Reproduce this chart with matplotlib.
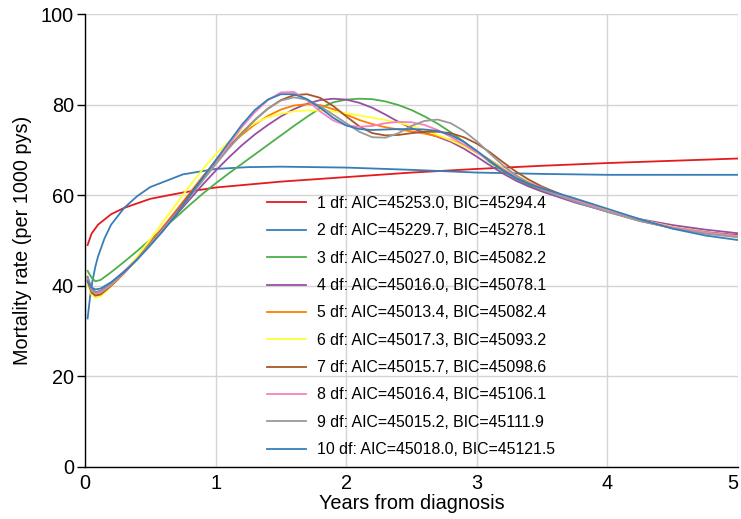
import numpy as np
import matplotlib
matplotlib.use("Agg")
import matplotlib.pyplot as plt

plt.rcParams['font.family'] = ['Liberation Sans', 'DejaVu Sans']

# values
x_1df = [0.02, 0.05, 0.1, 0.2, 0.3, 0.5, 0.75, 1, 1.5, 2, 2.5, 3, 3.5, 4, 4.5, 5]
y_1df = [49.0, 51.5, 53.5, 55.8, 57.2, 59.2, 60.6, 61.7, 63.0, 64.0, 65.0, 65.8, 66.5, 67.1, 67.6, 68.1]

x_2df = [0.02, 0.04, 0.06, 0.08, 0.1, 0.15, 0.2, 0.3, 0.4, 0.5, 0.75, 1, 1.25, 1.5, 2, 2.5, 3, 3.5, 4, 4.5, 5]
y_2df = [32.8, 37.8, 41.5, 44.3, 46.5, 50.5, 53.5, 57.2, 59.8, 61.8, 64.6, 65.8, 66.2, 66.3, 66.1, 65.6, 65.0, 64.7, 64.5, 64.5, 64.5]

x_spl = [0.02, 0.05, 0.08, 0.12, 0.2, 0.3, 0.4, 0.5, 0.6, 0.7, 0.8, 0.9, 1.0, 1.1, 1.2, 1.3,
         1.4, 1.5, 1.6, 1.7, 1.8, 1.9, 2.0, 2.1, 2.2, 2.3, 2.4, 2.5, 2.6, 2.7, 2.8, 2.9, 3.0,
         3.1, 3.2, 3.3, 3.4, 3.5, 3.75, 4.0, 4.25, 4.5, 4.75, 5.0]

y_3df = [43.3, 41.8, 41.0, 41.3, 43.0, 45.3, 47.7, 50.2, 52.7, 55.2, 57.8, 60.3, 62.6, 64.8, 66.9, 69.0,
         71.1, 73.2, 75.3, 77.3, 79.2, 80.5, 81.1, 81.3, 81.2, 80.7, 79.9, 78.8, 77.4, 75.8, 73.9, 71.8, 69.6,
         67.3, 65.3, 63.6, 62.2, 61.0, 58.6, 56.4, 54.5, 53.0, 51.9, 51.0]
y_4df = [42.0, 39.5, 38.6, 38.9, 40.6, 43.2, 46.0, 49.2, 52.4, 55.7, 59.0, 62.3, 65.4, 68.3, 71.0, 73.4,
         75.5, 77.4, 79.0, 80.2, 81.0, 81.3, 81.1, 80.4, 79.3, 77.8, 76.2, 74.8, 73.8, 72.9, 71.8, 70.3, 68.5,
         66.6, 64.8, 63.2, 61.9, 60.8, 58.4, 56.4, 54.7, 53.4, 52.4, 51.6]
y_5df = [41.5, 38.8, 38.0, 38.3, 40.2, 43.0, 46.2, 49.6, 53.1, 56.7, 60.4, 64.1, 67.5, 70.6, 73.3, 75.6,
         77.5, 78.9, 79.8, 80.1, 79.9, 79.0, 77.8, 76.6, 75.7, 75.0, 74.5, 74.1, 73.6, 73.0, 72.2, 71.0, 69.5,
         67.8, 66.0, 64.3, 62.8, 61.6, 59.0, 56.6, 54.5, 52.9, 51.7, 50.9]
y_6df = [40.5, 38.0, 37.3, 37.7, 39.8, 42.8, 46.5, 50.3, 54.2, 58.1, 62.0, 65.7, 69.0, 71.8, 74.1, 75.9,
         77.2, 78.0, 78.5, 78.7, 78.7, 78.5, 78.1, 77.6, 77.1, 76.6, 76.0, 75.3, 74.4, 73.3, 72.1, 70.8, 69.3,
         67.7, 66.0, 64.4, 62.9, 61.6, 58.9, 56.6, 54.6, 53.0, 51.8, 51.0]
y_7df = [41.0, 38.5, 37.8, 38.1, 40.0, 42.8, 45.9, 49.3, 52.8, 56.4, 60.1, 63.8, 67.3, 70.6, 73.7, 76.6,
         79.1, 81.0, 82.1, 82.3, 81.5, 79.7, 77.4, 75.2, 73.7, 73.2, 73.3, 73.7, 74.0, 74.0, 73.7, 72.8, 71.4,
         69.5, 67.3, 65.2, 63.4, 61.9, 58.9, 56.4, 54.3, 52.8, 51.8, 51.2]
y_8df = [41.5, 39.0, 38.3, 38.5, 40.2, 42.9, 45.9, 49.2, 52.6, 56.1, 59.7, 63.4, 67.0, 71.0, 75.0, 78.3,
         81.0, 82.7, 82.8, 81.0, 78.5, 76.5, 75.4, 75.1, 75.3, 75.9, 76.2, 76.1, 75.5, 74.4, 72.9, 71.2, 69.4,
         67.6, 65.8, 64.2, 62.8, 61.6, 58.9, 56.5, 54.5, 52.9, 51.8, 51.0]
y_9df = [41.8, 39.2, 38.5, 38.8, 40.4, 43.0, 45.9, 49.1, 52.4, 55.9, 59.5, 63.2, 66.8, 70.3, 73.6, 76.6,
         79.1, 80.9, 81.6, 81.1, 79.6, 77.8, 75.9, 74.0, 72.8, 72.7, 73.7, 75.3, 76.4, 76.7, 75.9, 74.2, 71.9,
         69.2, 66.6, 64.4, 62.6, 61.2, 58.6, 56.3, 54.3, 52.7, 51.5, 50.7]
y_10df = [41.0, 39.6, 39.2, 39.4, 40.8, 43.1, 45.8, 48.9, 52.2, 55.8, 59.8, 63.8, 67.7, 71.6, 75.5, 78.8,
          81.1, 82.3, 82.3, 81.2, 79.3, 77.1, 75.4, 74.6, 74.4, 74.5, 74.6, 74.6, 74.5, 74.2, 73.3, 71.8, 69.8,
          67.6, 65.5, 63.8, 62.5, 61.5, 59.3, 57.0, 54.7, 52.6, 51.1, 50.1]

labels = [
    "1 df: AIC=45253.0, BIC=45294.4",
    "2 df: AIC=45229.7, BIC=45278.1",
    "3 df: AIC=45027.0, BIC=45082.2",
    "4 df: AIC=45016.0, BIC=45078.1",
    "5 df: AIC=45013.4, BIC=45082.4",
    "6 df: AIC=45017.3, BIC=45093.2",
    "7 df: AIC=45015.7, BIC=45098.6",
    "8 df: AIC=45016.4, BIC=45106.1",
    "9 df: AIC=45015.2, BIC=45111.9",
    "10 df: AIC=45018.0, BIC=45121.5",
]
colors = ["#e41a1c", "#377eb8", "#4daf4a", "#984ea3", "#ff7f00",
          "#ffff33", "#a65628", "#f781bf", "#999999", "#377eb8"]

series = [(x_1df, y_1df), (x_2df, y_2df)] + [(x_spl, y) for y in
          [y_3df, y_4df, y_5df, y_6df, y_7df, y_8df, y_9df, y_10df]]

fig = plt.figure(figsize=(7.41, 5.19), dpi=100)
ax = fig.add_axes([0.1147, 0.1002, 0.8813, 0.8728])

for (xx, yy), c, lab in zip(series, colors, labels):
    ax.plot(xx, yy, color=c, lw=1.3, label=lab)

ax.set_xlim(0, 5)
ax.set_ylim(0, 100)
ax.set_xticks([0, 1, 2, 3, 4, 5])
ax.set_yticks([0, 20, 40, 60, 80, 100])
ax.grid(True, color="#d4d4d4", lw=1.0)
ax.set_axisbelow(True)
for s in ["top", "right"]:
    ax.spines[s].set_visible(False)
ax.spines["left"].set_linewidth(1.0)
ax.spines["bottom"].set_linewidth(1.0)
ax.tick_params(axis="y", length=6, width=1, labelsize=14.3, pad=2)
ax.tick_params(axis="x", length=0, labelsize=14.3, pad=5)
ax.get_xticklabels()[-1].set_horizontalalignment("right")
ax.set_xlabel("Years from diagnosis", fontsize=14.3, labelpad=1)
ax.set_ylabel("Mortality rate (per 1000 pys)", fontsize=14.3, labelpad=6)

leg = ax.legend(loc="center", bbox_to_anchor=(0.499, 0.31), frameon=False,
                fontsize=11.4, handlelength=2.5, handletextpad=0.7, labelspacing=0.78)

fig.savefig("out.png", dpi=100)
